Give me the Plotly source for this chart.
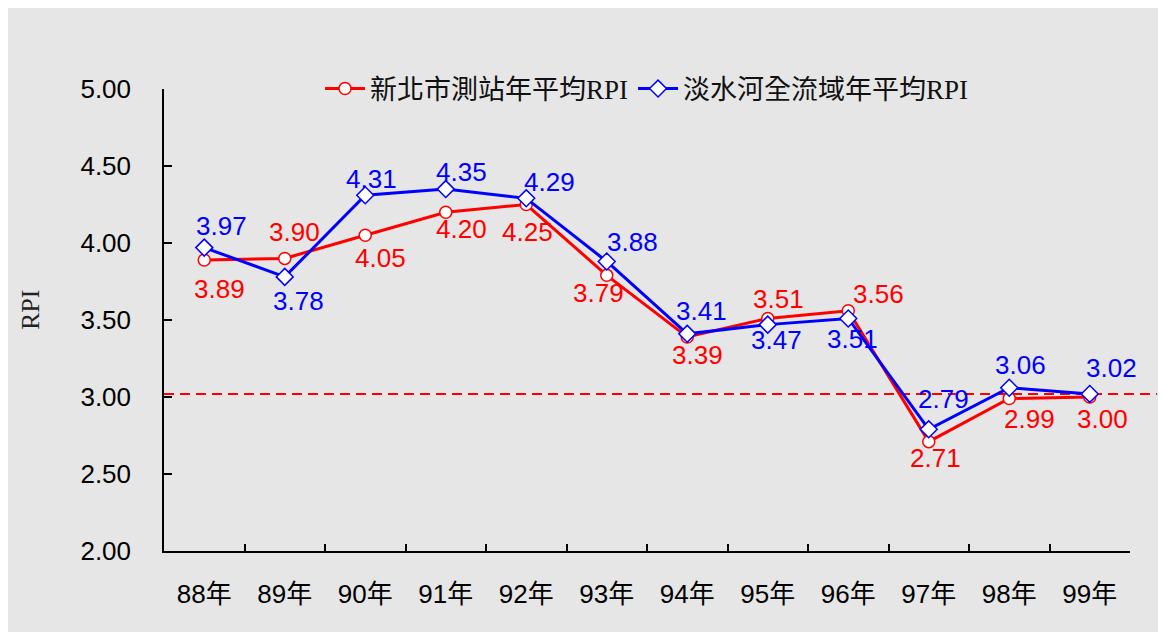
import plotly.graph_objects as go

categories = ["88年", "89年", "90年", "91年", "92年", "93年", "94年", "95年", "96年", "97年", "98年", "99年"]
red_name = "新北市測站年平均RPI"
blue_name = "淡水河全流域年平均RPI"
red_values = [3.89, 3.90, 4.05, 4.20, 4.25, 3.79, 3.39, 3.51, 3.56, 2.71, 2.99, 3.00]
blue_values = [3.97, 3.78, 4.31, 4.35, 4.29, 3.88, 3.41, 3.47, 3.51, 2.79, 3.06, 3.02]
reference_level = 3.02
y_ticks = [2.0, 2.5, 3.0, 3.5, 4.0, 4.5, 5.0]

# label offsets in pixels (dx right, dy down) relative to each point
red_dx = [15, 10, 15, 16, 1, -8, 10, 11, 30, 7, 20, 13]
red_dy = [29, -26, 23, 17, 27, 18, 18, -19, -17, 16, 20, 22]
blue_dx = [17, 14, 6, 16, 23, 26, 14, 9, 4, 15, 11, 22]
blue_dy = [-22, 24, -16, -17, -16, -19, -23, 15, 21, -30, -23, -26]

RED = "#ff0000"
BLUE = "#0000ff"
GRAY = "#e6e6e6"
NUM_FONT = "Liberation Sans, Arial, Noto Sans CJK TC, sans-serif"
SERIF = "Liberation Serif, Times New Roman, Noto Sans CJK TC, serif"

fig = go.Figure()
fig.add_trace(go.Scatter(
    x=categories, y=red_values, name=red_name, mode="lines+markers",
    line=dict(color=RED, width=3),
    marker=dict(symbol="circle", size=12, color="white", line=dict(color=RED, width=1.5)),
    cliponaxis=False,
))
fig.add_trace(go.Scatter(
    x=categories, y=blue_values, name=blue_name, mode="lines+markers",
    line=dict(color=BLUE, width=3),
    marker=dict(symbol="diamond", size=13, color="white", line=dict(color=BLUE, width=1.5)),
    cliponaxis=False,
))

for vals, dxs, dys, col in [(red_values, red_dx, red_dy, RED), (blue_values, blue_dx, blue_dy, BLUE)]:
    for c, v, dx, dy in zip(categories, vals, dxs, dys):
        fig.add_annotation(x=c, y=v, text=f"{v:.2f}", showarrow=False,
                           xanchor="center", yanchor="middle", xshift=dx, yshift=-dy,
                           font=dict(family=NUM_FONT, size=26, color=col))

# figure is placed 8px into the page (body margin)
OFF = 8
W, H = 1166 - OFF, 635 - OFF
L, T = 164 - OFF, 89 - OFF
R = W - (1130 - OFF)
B = H - (551 - OFF)
pw, ph = W - L - R, H - T - B

def px_x(p):
    return (p - OFF - L) / pw

def px_y(p):
    return (H - B - (p - OFF)) / ph

fig.add_shape(type="rect", xref="paper", yref="paper",
              x0=px_x(5), x1=px_x(1161), y0=px_y(632), y1=px_y(5),
              fillcolor=GRAY, line=dict(width=0), layer="below")
fig.add_shape(type="line", xref="paper", yref="y",
              x0=0, x1=px_x(1157), y0=reference_level, y1=reference_level,
              line=dict(color=RED, width=2, dash="10px,6px"), layer="below")

fig.add_annotation(text="RPI", xref="paper", yref="paper", x=px_x(30), y=px_y(310),
                   xanchor="center", yanchor="middle",
                   showarrow=False, textangle=-90,
                   font=dict(family=SERIF, size=26, color="#222222"))

fig.update_layout(
    width=W, height=H,
    margin=dict(l=L, r=R, t=T, b=B, pad=0),
    paper_bgcolor="white", plot_bgcolor=GRAY,
    showlegend=True,
    legend=dict(orientation="h", x=0.5, xanchor="center", y=1.0, yanchor="middle",
                font=dict(family=SERIF, size=27, color="#111111"),
                bgcolor="rgba(0,0,0,0)", itemwidth=40, tracegroupgap=0),
    xaxis=dict(type="category", range=[-0.5, 11.5], showgrid=False, zeroline=False,
               showline=True, linecolor="black", linewidth=1.5,
               ticks="inside", ticklen=7, tickwidth=1.5, tickcolor="black",
               tickson="boundaries", ticklabelstandoff=19,
               tickfont=dict(family=NUM_FONT, size=26, color="black")),
    yaxis=dict(range=[2, 5], tickvals=y_ticks, tickformat=".2f", showgrid=False,
               zeroline=False, showline=True, linecolor="black", linewidth=1.5,
               ticks="inside", ticklen=8, tickwidth=1.5, tickcolor="black",
               ticklabelstandoff=26,
               tickfont=dict(family=NUM_FONT, size=26, color="black")),
)

fig.write_html("out.html")
